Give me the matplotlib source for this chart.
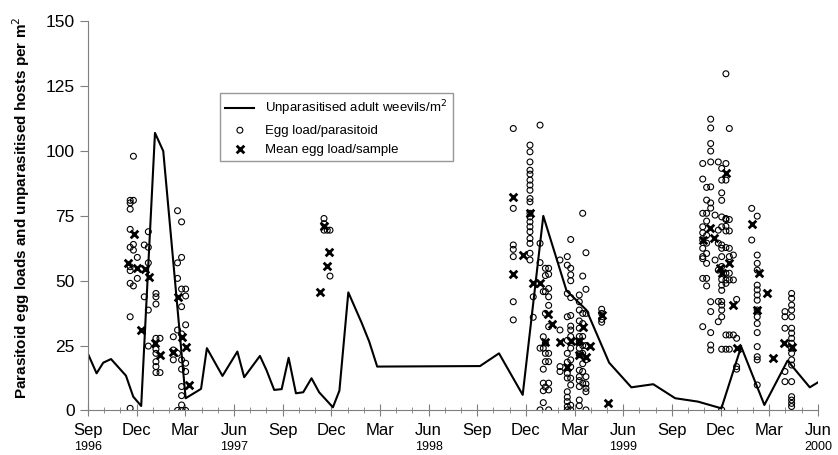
import matplotlib.pyplot as plt
import numpy as np

plt.rcParams['font.family'] = ['Liberation Sans', 'DejaVu Sans']

# months counted from Sep 1996 (= 0)
line_months = [0, 0.53, 0.94, 1.42, 2.34, 2.79, 3.28, 4.13, 4.64, 6.02, 6.97, 7.33,
               8.29, 9.21, 9.63, 10.6, 11.0, 11.48, 11.94, 12.37, 12.82, 13.27, 13.78,
               14.25, 15.1, 15.5, 16.05, 16.87, 17.34, 17.83, 24.17, 25.34, 26.8, 28.07,
               29.5, 30.73, 32.13, 33.5, 34.85, 36.2, 37.6, 39.05, 40.27, 41.7, 43.13,
               44.5, 45.0]
line_values = [21.8, 14.3, 18.4, 19.8, 13.4, 5.3, 1.7, 107, 100, 4.7, 8.3, 24,
               13.3, 22.7, 12.8, 21, 15.6, 7.9, 8.2, 20.3, 6.6, 7.0, 12.4,
               7.0, 1.2, 7.6, 45.5, 33.8, 26.5, 16.9, 17.1, 22, 6, 75,
               46.2, 38.7, 18.4, 8.9, 10.1, 4.7, 3.4, 0.8, 24.6, 2.1, 19.2,
               8.9, 10.8]

# individual egg loads, grouped by sample date
egg_months = [2.6, 2.8, 3.04, 3.47, 3.72, 4.19, 4.44, 5.26, 5.52, 5.77, 6.02,
              14.55, 14.75, 14.92,
              26.22, 27.25, 27.45, 27.87, 28.07, 28.2, 28.4, 29.1, 29.55, 29.76,
              30.29, 30.5, 30.7, 31.67,
              37.9, 38.14, 38.39, 38.66, 38.86, 39.07, 39.33, 39.54, 39.79, 39.99,
              40.92, 41.26, 42.97, 43.38]
egg_values = [
    [81, 80, 77.6, 69.8, 62.9, 55.4, 53.9, 49, 36.1, 0.8],
    [98, 81, 64, 61.8, 48],
    [59, 50.9],
    [63.8, 43.8],
    [68.9, 62.9, 56.9, 38.7, 24.8],
    [45.1, 43.8, 41, 27.8, 23.6, 22, 18.8, 16.9, 14.6],
    [27.8, 14.6],
    [28.4, 23.3, 19.5],
    [77, 56.9, 50.9, 31, 22, 0],
    [72.7, 59, 46.8, 40, 29.5, 19.5, 15.9, 9.2, 5.7, 2.1, 0],
    [46.8, 44.1, 33, 18.2, 15, 0],
    [74, 72, 69.5],
    [69.5],
    [69.5, 51.8],
    [108.7, 77.9, 63.8, 62.1, 59.3, 41.9, 34.9],
    [102.3, 99.7, 95.8, 92.6, 91.1, 88.8, 86.9, 84.9, 81.7, 80.4, 76, 74.6, 72.7,
     70.8, 68.9, 66.3, 64.4, 60.6, 58],
    [43.8, 35.9],
    [110, 64.4, 57, 24, 0.2],
    [45.8, 28.4, 24, 15.9, 10.5, 7.6, 3],
    [54.8, 52, 45.8, 37.4, 26, 22, 18.8, 9],
    [54.8, 52.5, 47, 43.8, 40.5, 32.3, 22, 18.8, 10.5, 7.9, 0.2],
    [58, 31, 16.9, 15],
    [59.3, 56, 45.1, 36.1, 27, 22, 18.6, 14.3, 12.5, 7.2, 5.1, 3.4, 1.5, 0.2],
    [65.9, 54.8, 52.3, 50, 43.5, 36.6, 32.5, 31, 28.5, 24, 19.5, 16.8, 12.4, 9.8, 2, 0.2],
    [44.5, 41.9, 38.7, 34.5, 31.7, 28.5, 26.5, 24, 21.5, 15.5, 13, 11.5, 9.2, 4, 1.8],
    [76, 51.8, 37.4, 33.5, 28.5, 25, 22, 18, 15, 10.5],
    [60.8, 46.7, 37.4, 25, 19.5, 13, 10.2, 8.5, 7.2, 0.2],
    [39, 37.4, 35.1, 34],
    [95.2, 89.2, 76, 70.8, 68.5, 65.7, 62.5, 59.3, 58.5, 50.9, 32.3],
    [86, 81.1, 76, 73, 67.5, 64.5, 60.5, 56.7, 50.9, 48],
    [112.3, 108.9, 102.9, 100, 95.8, 86.2, 80, 78, 41.9, 38.1, 30, 25.2, 23.3],
    [75.3, 58],
    [95.8, 69.5, 64.5, 54.1, 42, 34.2],
    [93.3, 88.8, 83.9, 81, 74.6, 70.8, 63.8, 62.5, 59.3, 55.5, 50.5, 48.3, 46.3, 42,
     40.6, 38.7, 36.1, 23.6, 0.2],
    [129.8, 95.2, 88.8, 74, 73.6, 71, 69.2, 62.8, 52.9, 50.3, 49, 29.1, 23.6],
    [108.7, 73.6, 69.2, 62.5, 59.3, 52.9, 50.3, 29.1, 23.6],
    [59.9, 50.3, 29.1],
    [42.8, 27.8, 16.9, 15.9],
    [77.9, 65.7],
    [74.9, 59.9, 56.7, 54.1, 48.3, 46.5, 44.5, 42.5, 38.7, 36.1, 33.5, 30, 24.6, 20.7,
     19.5, 9.8],
    [38.1, 36.1, 31.7, 15, 11.1],
    [45.1, 43.2, 40.6, 38.7, 36.1, 31.7, 29.8, 27.8, 25.9, 24, 22, 19.5, 17.5, 11.1,
     5.3, 4, 2.7, 1.5],
]

mean_months = [2.48, 2.85, 3.04, 3.27, 3.53, 3.74, 4.13, 4.44, 5.26, 5.52, 5.77, 6.02,
               6.25, 14.3, 14.55, 14.75, 14.87, 26.22, 27.25, 26.8, 26.22, 27.45,
               27.87, 28.38, 28.59, 28.17, 29.1, 29.76, 29.55, 30.29, 30.29, 30.5,
               30.7, 30.95, 31.67, 32.08, 37.9, 38.35, 38.6, 38.96, 39.07, 39.54,
               39.33, 39.79, 39.99, 40.92, 41.39, 41.26, 41.84, 42.25, 42.91, 43.38]
mean_values = [56.9, 68, 54.8, 31, 54.4, 51.5, 26.1, 21.4, 22.6, 43.8, 28.2, 24.6,
               9.8, 45.8, 71, 55.8, 61, 82.1, 76.2, 59.9, 52.5, 49,
               49, 37.2, 33.3, 26.5, 26.5, 26.9, 16.9, 26.9, 21.4, 32.3,
               20.7, 24.8, 36.8, 3.0, 65.7, 70.2, 66.3, 54.8, 52.9, 56.7,
               91.6, 40.6, 24, 71.8, 53.1, 38.7, 45.1, 20.1, 26.1, 24.6]

tick_labels = ['Sep', 'Dec', 'Mar', 'Jun'] * 3 + ['Sep', 'Dec', 'Mar', 'Jun']
year_ticks = [0, 9, 21, 33, 45]
year_labels = ['1996', '1997', '1998', '1999', '2000']

fig = plt.figure(figsize=(8.38, 4.55), dpi=100)
ax = fig.add_axes([0.105, 0.098, 0.871, 0.855])

ax.plot(line_months, line_values, color='black', lw=1.5,
        label='Unparasitised adult weevils/m$^2$')
ex = np.concatenate([[m] * len(v) for m, v in zip(egg_months, egg_values)])
ey = np.concatenate(egg_values)
ax.scatter(ex, ey, s=18, facecolors='none', edgecolors='black', linewidths=0.8,
           label='Egg load/parasitoid', zorder=3)
ax.scatter(mean_months, mean_values, s=30, marker='x', color='black', linewidths=2,
           label='Mean egg load/sample', zorder=4)

ax.set_xlim(0, 45)
ax.set_ylim(0, 150)
ax.set_yticks(range(0, 151, 25))
ax.set_xticks(range(0, 46, 3))
ax.set_xticklabels(tick_labels)
ax.set_xticks(range(0, 46), minor=True)
for m, yr in zip(year_ticks, year_labels):
    ax.text(m, -0.093, yr, transform=ax.get_xaxis_transform(), ha='center',
            va='center', fontsize=9)

for side in ['top', 'right']:
    ax.spines[side].set_visible(False)
for side in ['left', 'bottom']:
    ax.spines[side].set_color('#7f7f7f')
ax.tick_params(axis='x', which='major', direction='inout', length=8, color='#7f7f7f',
               labelsize=12, pad=5)
ax.tick_params(axis='x', which='minor', direction='inout', length=5, color='#7f7f7f')
ax.tick_params(axis='y', direction='out', length=6, color='#7f7f7f', labelsize=12.5)

ax.set_ylabel('Parasitoid egg loads and unparasitised hosts per m$^2$',
              fontsize=11, fontweight='bold')
ax.yaxis.set_label_coords(-0.077, 0.52)

leg = ax.legend(loc='upper left', bbox_to_anchor=(0.181, 0.816), borderaxespad=0,
                fontsize=9.5, fancybox=False, edgecolor='#7f7f7f', handlelength=2.2)
leg.get_frame().set_linewidth(1)

fig.savefig('out.png', dpi=100)
